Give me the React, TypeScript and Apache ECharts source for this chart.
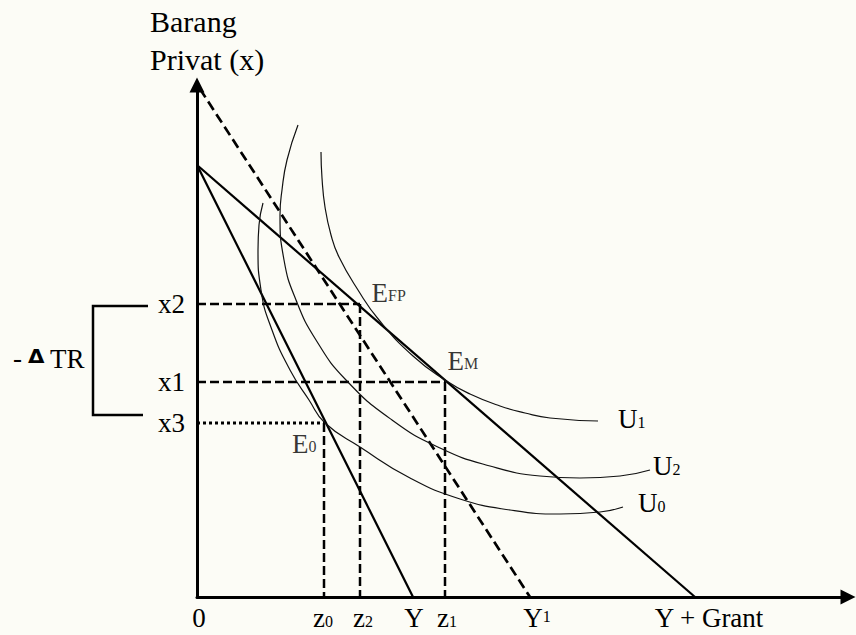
import React, { useEffect, useRef } from 'react';
import * as echarts from 'echarts';

const SERIF = '"Liberation Serif", "Times New Roman", serif';

// Horizontal axis labels (positions in data units) and their texts
const xLabelValues = [2, 126, 166, 217, 250, 340, 512];
const xLabelTexts = ['{m|0}', '{m|z}{s|0}', '{m|z}{s|2}', '{m|Y}', '{m|z}{s|1}', '{m|Y}{p|1}', '{m|Y + Grant}'];
// Vertical axis labels
const yLabelValues = [293, 215, 174];
const yLabelTexts = ['x2', 'x1', 'x3'];

// Budget lines
const budgetOriginal = [[0, 432], [216, 0]];
const budgetGrant = [[0, 432], [498, 0]];
const budgetFlypaper = [[3, 508], [333, 0]];

// Indifference curves
const curveU0 = [[66, 394], [62, 372], [61, 347], [64, 307], [75, 267], [93, 227], [112, 197], [128, 174], [163, 150], [213, 119], [263, 98], [313, 87], [363, 83], [403, 85], [426, 90]];
const curveU2 = [[101, 472], [90, 437], [85, 407], [83, 382], [87, 337], [99, 297], [119, 257], [149, 217], [195, 177], [243, 149], [293, 131], [343, 121], [383, 119], [423, 121], [453, 127]];
const curveU1 = [[124, 445], [125, 419], [128, 390], [134, 362], [142, 340], [161, 307], [182, 277], [216, 241], [248, 217], [273, 203], [303, 191], [328, 184], [353, 179], [401, 176]];

// Equilibrium points
const pointEFP = [163, 293];
const pointEM = [248, 215];
const pointE0 = [127, 174];

const richText = {
  m: { fontFamily: SERIF, fontSize: 27, color: '#000', lineHeight: 30 },
  s: { fontFamily: SERIF, fontSize: 16, color: '#000', verticalAlign: 'bottom', padding: [0, 0, 4, 0] },
  p: { fontFamily: SERIF, fontSize: 16, color: '#000', verticalAlign: 'top', padding: [5, 0, 0, 0] },
};

export default function App() {
  const ref = useRef<HTMLDivElement>(null);
  useEffect(() => {
    if (!ref.current) return;
    const chart = echarts.init(ref.current, null, { renderer: 'svg' });
    const thin = { color: '#111', width: 1.2 };
    const dash = { color: '#000', width: 2.5, type: [9, 4] };
    const dot = { color: '#000', width: 3, type: [3, 3] };
    const lineBase = { type: 'line', symbol: 'none', silent: true, animation: false };
    const curveLabel = (txt: string, dist: number, dy: number) => ({
      show: true,
      formatter: txt,
      distance: dist,
      offset: [0, dy],
      rich: richText,
    });
    const eLabel = (pt: number[], txt: string, dx: number, dy: number, align: string) => ({
      value: pt,
      label: { show: true, formatter: txt, position: [dx, dy], align, verticalAlign: 'middle', rich: richText },
    });
    const option: any = {
      animation: false,
      backgroundColor: '#fcfcf6',
      grid: { left: 197, right: 8, top: 85, bottom: 38, outerBoundsMode: 'none' },
      xAxis: {
        type: 'value',
        min: 0,
        max: 651,
        axisLine: { show: true, symbol: ['none', 'triangle'], symbolSize: [15, 15], lineStyle: { color: '#000', width: 3 } },
        axisTick: { show: false },
        splitLine: { show: false },
        axisLabel: {
          customValues: xLabelValues,
          formatter: (v: number) => xLabelTexts[xLabelValues.indexOf(v)] ?? '',
          rich: richText,
          margin: 6,
        },
      },
      yAxis: {
        type: 'value',
        min: 0,
        max: 512,
        axisLine: { show: true, symbol: ['none', 'triangle'], symbolSize: [15, 15], lineStyle: { color: '#000', width: 3 } },
        axisTick: { show: false },
        splitLine: { show: false },
        axisLabel: {
          customValues: yLabelValues,
          formatter: (v: number) => yLabelTexts[yLabelValues.indexOf(v)] ?? '',
          fontFamily: SERIF,
          fontSize: 27,
          color: '#000',
          margin: 12,
        },
      },
      series: [
        { ...lineBase, data: [[0, pointEFP[1]], pointEFP], lineStyle: dash },
        { ...lineBase, data: [pointEFP, [pointEFP[0], 0]], lineStyle: dash },
        { ...lineBase, data: [[0, pointEM[1]], pointEM], lineStyle: dash },
        { ...lineBase, data: [pointEM, [pointEM[0], 0]], lineStyle: dash },
        { ...lineBase, data: [[0, pointE0[1]], pointE0], lineStyle: dot },
        { ...lineBase, data: [pointE0, [pointE0[0], 0]], lineStyle: dash },
        { ...lineBase, data: budgetFlypaper, lineStyle: { color: '#000', width: 2.7, type: [10, 5] } },
        { ...lineBase, data: budgetOriginal, lineStyle: { color: '#000', width: 2.2 } },
        { ...lineBase, data: budgetGrant, lineStyle: { color: '#000', width: 2.2 } },
        { ...lineBase, data: curveU0, smooth: true, lineStyle: thin, endLabel: curveLabel('{m|U}{s|0}', 15, -4) },
        { ...lineBase, data: curveU2, smooth: true, lineStyle: thin, endLabel: curveLabel('{m|U}{s|2}', 3, -4) },
        { ...lineBase, data: curveU1, smooth: true, lineStyle: thin, endLabel: curveLabel('{m|U}{s|1}', 20, -2) },
        {
          type: 'scatter',
          silent: true,
          symbolSize: 1,
          itemStyle: { color: 'transparent' },
          data: [
            eLabel(pointEFP, '{m|E}{s|FP}', 12, -11, 'left'),
            eLabel(pointEM, '{m|E}{s|M}', 3, -21, 'left'),
            eLabel(pointE0, '{m|E}{s|0}', -7, 21, 'right'),
          ],
        },
      ],
      graphic: [
        { type: 'text', left: 150, top: 6, style: { text: 'Barang', font: `30px ${SERIF}`, fill: '#000' } },
        { type: 'text', left: 150, top: 44, style: { text: 'Privat (x)', font: `30px ${SERIF}`, fill: '#000' } },
        { type: 'text', x: 13, y: 358, style: { text: '-', font: `27px ${SERIF}`, fill: '#000', verticalAlign: 'middle' } },
        { type: 'text', x: 28, y: 356, scaleX: 1.12, style: { text: 'Δ', font: `bold 19px "DejaVu Sans"`, fill: '#000', verticalAlign: 'middle' } },
        { type: 'text', x: 50, y: 359, style: { text: 'TR', font: `27px ${SERIF}`, fill: '#000', verticalAlign: 'middle' } },
        {
          type: 'polyline',
          shape: { points: [[148, 306], [93, 306], [93, 415], [143, 415]] },
          style: { stroke: '#000', lineWidth: 2.5, fill: 'none' },
        },
      ],
    };
    chart.setOption(option);
    return () => chart.dispose();
  }, []);
  return <div ref={ref} style={{ position: 'absolute', left: 0, top: 0, width: 856, height: 635 }} />;
}
